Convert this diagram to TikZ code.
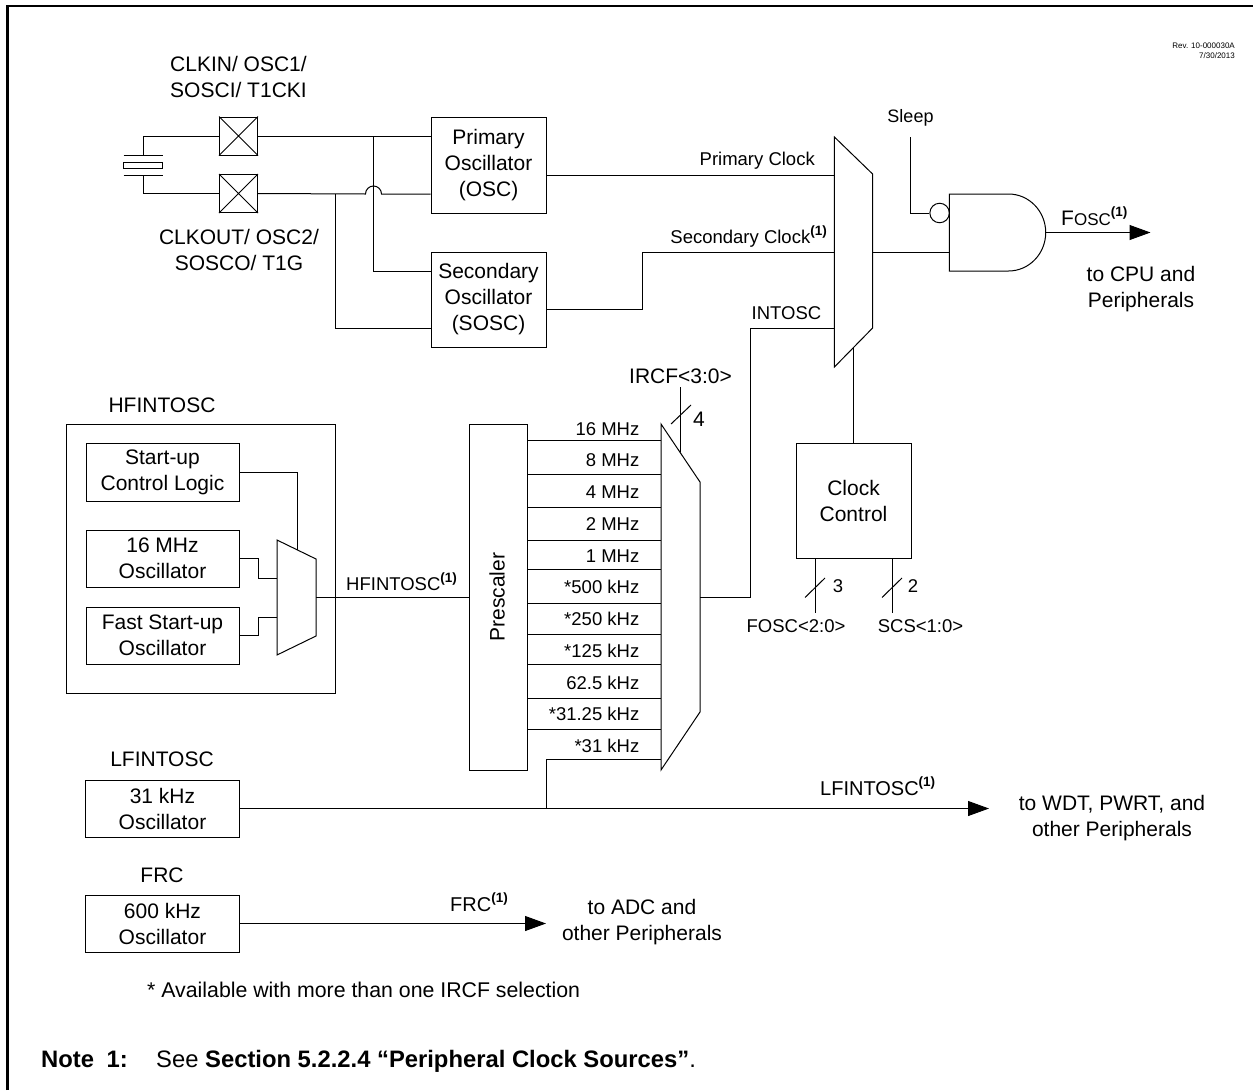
\documentclass[tikz,border=0pt]{standalone}
\usepackage{fontspec}
\setmainfont{Liberation Sans}
\usetikzlibrary{arrows.meta,calc}
\newcommand{\bigtxt}{\fontsize{21}{26}\selectfont}
\newcommand{\smalltxt}{\fontsize{18.5}{23}\selectfont}
\newcommand{\notetxt}{\fontsize{23.8}{28}\selectfont}
\newcommand{\supone}{\raisebox{0.42em}{\fontsize{13.5}{14}\selectfont\bfseries (1)}}
\tikzset{
  wire/.style={line width=1pt,line join=miter},
  boxnode/.style={draw,line width=1pt,inner sep=0pt,align=center,font=\bigtxt,fill=white},
  lab/.style={inner sep=0pt,align=center,font=\bigtxt},
  sml/.style={inner sep=0pt,font=\smalltxt},
  freq/.style={inner sep=0pt,font=\smalltxt,anchor=base east},
  pad/.style={draw,rectangle,line width=1pt,minimum size=38pt,inner sep=0pt},
  arrowed/.style={wire,-{Triangle[length=21pt,width=15pt]}},
  frameline/.style={line width=2.6pt,line cap=butt,line join=miter},
}
\begin{document}
\begin{tikzpicture}[x=1pt,y=-1pt]
\useasboundingbox (0,0) rectangle (1253,1090);
\fill[white] (0,0) rectangle (1253,1090);
\draw[frameline] (7.5,1090) -- (7.5,6) -- (1253,6);

\node[inner sep=0pt,align=right,anchor=north east,font=\fontsize{8}{10.5}\selectfont] (rev) at (1235,42.5) {Rev. 10-000030A\\7/30/2013};

% crystal and pads
\node[pad] (pad1) at (238.5,136) {};
\node[pad] (pad2) at (238.5,193.5) {};
\draw[wire] (pad1.north west) -- (pad1.south east) (pad1.north east) -- (pad1.south west);
\draw[wire] (pad2.north west) -- (pad2.south east) (pad2.north east) -- (pad2.south west);
\node[draw,line width=1pt,minimum width=39pt,minimum height=6pt,inner sep=0pt] (xtal) at (143,165) {};
\coordinate (pt) at (143,155); \coordinate (pb) at (143,175);
\draw[wire] (123.5,155) -- (162.5,155);
\draw[wire] (123.5,175) -- (162.5,175);
\draw[wire] (pad1.west) -| (pt);
\draw[wire] (pad2.west) -| (pb);
\node[lab] (clkin) at (238.5,77) {CLKIN/ OSC1/\\SOSCI/ T1CKI};
\node[lab] (clkout) at (239,250) {CLKOUT/ OSC2/\\SOSCO/ T1G};

% oscillators
\node[boxnode,minimum width=115pt,minimum height=96pt] (prim) at (488.5,165) {Primary\\Oscillator\\(OSC)};
\node[boxnode,minimum width=115pt,minimum height=95pt] (sec) at (488.5,299.5) {Secondary\\Oscillator\\(SOSC)};
\coordinate (j1) at (373.5,136);
\coordinate (j2) at (335,194);
\coordinate (ja) at (365.5,194);
\coordinate (jb) at (381.5,194);
\draw[wire] (pad1.east) -- (prim.west |- j1);
\draw[wire] (j1) |- (sec.west |- 0,271);
\draw[wire] (pad2.east) -- (ja) arc[start angle=180,end angle=0,radius=8pt] -- (prim.west |- jb);
\draw[wire] (j2) |- (sec.west |- 0,328);

% main mux
\coordinate (m1tl) at (834.4,137);
\coordinate (m1tr) at (872.6,174);
\coordinate (m1br) at (872.6,328);
\coordinate (m1bl) at (834.4,367);
\draw[wire] (m1tl) -- (m1tr) -- (m1br) -- (m1bl) -- cycle;
\coordinate (m1c) at ($(m1br)!0.5!(m1bl)$);
\draw[wire] (prim.east |- 0,175) -- (m1tl |- 0,175);
\draw[wire] (sec.east |- 0,309) -- (642.4,309) -- (642.4,252) -- (m1tl |- 0,252);
\node[sml,anchor=base east] (lprim) at (815,165) {Primary Clock};
\node[sml,anchor=base east] (lsec) at (827,243) {Secondary Clock\supone};
\node[sml,anchor=base west] (lint) at (751.5,319) {INTOSC};

% AND gate
\coordinate (andtl) at (949.3,194);
\coordinate (andbl) at (949.3,271);
\draw[wire] (andtl) -- (1008.5,194) arc[start angle=90,end angle=-90,x radius=37.2pt,y radius=38.5pt] -- (andbl) -- cycle;
\coordinate (andout) at (1045.7,232.5);
\node[circle,draw,line width=1pt,minimum size=19.5pt,inner sep=0pt] (bub) at (939.6,213) {};
\coordinate (sleeptop) at (910.8,137);
\draw[wire] (sleeptop) |- (bub.west);
\node[sml,font=\fontsize{18}{22}\selectfont] (lsleep) at (910.5,117.5) {Sleep};
\draw[wire] (m1br |- 0,252) -- (andtl |- 0,252);
\coordinate (foscend) at (1150.5,232.5);
\draw[arrowed] (andout) -- (foscend);
\node[inner sep=0pt,anchor=base west,font=\bigtxt] (lfosc) at (1061,225) {F{\fontsize{17}{20}\selectfont OSC}\supone};
\node[lab] (lcpu) at (1141,289.5) {to CPU and\\Peripherals};

% clock control
\node[boxnode,minimum width=115pt,minimum height=115pt] (cc) at (853.5,500.5) {Clock\\Control};
\draw[wire] (m1c) -- (cc.north -| m1c);
\coordinate (f1) at (815,613); \coordinate (s1) at (892,613);
\draw[wire] (cc.south -| f1) -- (f1);
\draw[wire] (cc.south -| s1) -- (s1);
\draw[wire] (805,597.5) -- (825,578);
\draw[wire] (882,597.5) -- (902,578);
\node[sml] (n3) at (838,586) {3};
\node[sml] (n2) at (913,586) {2};
\node[sml,anchor=base] (lfo) at (796,632) {FOSC<2:0>};
\node[sml,anchor=base] (lsc) at (920.5,632) {SCS<1:0>};

% HFINTOSC
\node[lab] (lhf) at (162,405) {HFINTOSC};
\node[draw,line width=1pt,minimum width=269pt,minimum height=269pt,inner sep=0pt] (hfbox) at (200.5,558.5) {};
\node[boxnode,minimum width=153pt,minimum height=58pt] (start) at (162.5,472) {Start-up\\Control Logic};
\node[boxnode,minimum width=153pt,minimum height=57pt] (m16) at (162.5,558.5) {16 MHz\\Oscillator};
\node[boxnode,minimum width=153pt,minimum height=57pt] (fast) at (162.5,635.5) {Fast Start-up\\Oscillator};
\coordinate (m2tl) at (277,540);
\coordinate (m2tr) at (316,559);
\coordinate (m2br) at (316,636);
\coordinate (m2bl) at (277,655);
\draw[wire] (m2tl) -- (m2tr) -- (m2br) -- (m2bl) -- cycle;
\coordinate (m2c) at ($(m2tl)!0.513!(m2tr)$);
\draw[wire] (start.east) -| (m2c);
\draw[wire] (m16.east) -- (258.5,558.5) -- (258.5,578) -- (m2tl |- 0,578);
\draw[wire] (fast.east) -- (258.5,635.5) -- (258.5,617) -- (m2tl |- 0,617);

% prescaler and mux
\node[boxnode,minimum width=58pt,minimum height=346pt] (pre) at (498,597) {};
\node[inner sep=0pt,rotate=90,font=\bigtxt] (lpre) at (497,597) {Prescaler};
\draw[wire] (m2tr |- 0,597) -- (pre.west);
\node[sml,anchor=base west] (lhfo) at (346,590) {HFINTOSC\supone};
\coordinate (m3tl) at (661,424);
\coordinate (m3tr) at (700,482);
\coordinate (m3br) at (700,712);
\coordinate (m3bl) at (661,770);
\draw[wire] (m3tl) -- (m3tr) -- (m3br) -- (m3bl) -- cycle;
\foreach \yy in {440.5,474,507,540,569,603,634,664,698,729}
  \draw[wire] (pre.east |- 0,\yy) -- (m3tl |- 0,\yy);
\foreach \lb/\yy/\nm in {16 MHz/435/fa,8 MHz/466/fb,4 MHz/498/fc,2 MHz/530/fd,1 MHz/562/fe,*500 kHz/593/ff,*250 kHz/625/fg,*125 kHz/657/fh,62.5 kHz/689/fi,*31.25 kHz/720/fj,*31 kHz/752/fk}
  \node[freq] (\nm) at (639.5,\yy) {\lb};
\coordinate (m3c) at ($(m3tl)!0.487!(m3tr)$);
\coordinate (irtop) at (m3c |- 0,387);
\draw[wire] (irtop) -- (m3c);
\draw[wire] (671,424) -- (691,405);
\node[lab] (n4) at (699,419) {4};
\node[inner sep=0pt,anchor=base west,font=\bigtxt] (lir) at (629,383) {IRCF<3:0>};
\draw[wire] (m3br |- 0,597) -- (750.5,597) -- (750.5,328) -- (m1bl |- 0,328);

% LFINTOSC
\node[lab] (llf) at (162,759) {LFINTOSC};
\node[boxnode,minimum width=154pt,minimum height=57pt] (lf) at (162.5,808.5) {31 kHz\\Oscillator};
\coordinate (lfend) at (989,808.5);
\coordinate (lfj) at (546,808.5);
\draw[arrowed] (lf.east) -- (lfend);
\draw[wire] (lfj) |- (m3bl |- 0,759);
\node[inner sep=0pt,anchor=base west,font=\fontsize{20}{24}\selectfont] (llfo) at (820,795) {LFINTOSC\supone};
\node[lab] (lwdt) at (1112,818.5) {to WDT, PWRT, and\\other Peripherals};

% FRC
\node[lab] (lfr) at (162,875) {FRC};
\node[boxnode,minimum width=154pt,minimum height=57pt] (frc) at (162.5,923.5) {600 kHz\\Oscillator};
\coordinate (frcend) at (546,923.5);
\draw[arrowed] (frc.east) -- (frcend);
\node[inner sep=0pt,anchor=base west,font=\fontsize{20}{24}\selectfont] (lfrc) at (450,911) {FRC\supone};
\node[lab] (ladc) at (642,922) {to ADC and\\other Peripherals};

% notes
\node[inner sep=0pt,anchor=base west,font=\fontsize{21.3}{26}\selectfont] (avail) at (147,997) {* Available with more than one IRCF selection};
\node[inner sep=0pt,anchor=base west,font=\notetxt\bfseries] (note) at (41,1067) {Note\hspace{12.5pt}1:};
\node[inner sep=0pt,anchor=base west,font=\notetxt] (see) at (156,1067) {See \textbf{Section 5.2.2.4 “Peripheral Clock Sources”}.};
\end{tikzpicture}
\end{document}
